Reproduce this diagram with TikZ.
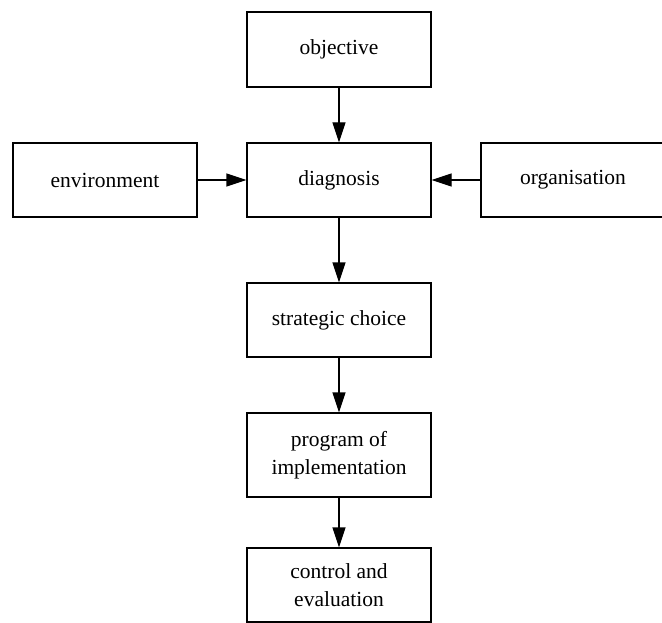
\documentclass[tikz,border=0pt]{standalone}
\usepackage{fontspec}
\setmainfont{Liberation Serif}
\usetikzlibrary{arrows.meta}
\tikzset{
  box/.style={draw, line width=1.1pt, minimum width=184pt, minimum height=74pt, inner sep=2pt, align=center, font=\fontsize{21.5}{27.5}\selectfont},
  conn/.style={line width=1.1pt, -{Triangle[length=20pt,width=13pt]}}
}
\begin{document}
\begin{tikzpicture}[x=1pt,y=-1pt]
\useasboundingbox (0,0) rectangle (662,623);
\node[box, minimum height=75pt] (obj) at (339,49.5) {objective};
\node[box] (env) at (105,180) {environment};
\node[box] (diag) at (339,180) {diagnosis};
\node[box] (org) at (573,180) {organisation};
\node[box] (strat) at (339,320) {strategic choice};
\node[box, minimum height=84pt] (prog) at (339,455) {program of\\implementation};
\node[box] (ctrl) at (339,585) {control and\\evaluation};
\draw[conn] (obj) -- (diag);
\draw[conn] (env) -- (diag);
\draw[conn] (org) -- (diag);
\draw[conn] (diag) -- (strat);
\draw[conn] (strat) -- (prog);
\draw[conn] (prog) -- (ctrl);
\end{tikzpicture}
\end{document}
